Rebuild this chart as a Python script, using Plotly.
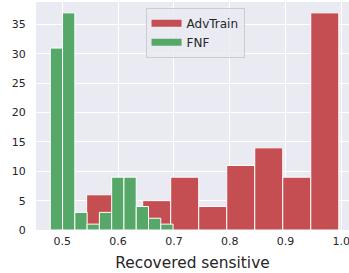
import plotly.graph_objects as go

# AdvTrain histogram (bin edges and counts)
adv_edges = [0.4935, 0.5437, 0.5939, 0.6441, 0.6943, 0.7445, 0.7947, 0.8449, 0.8951, 0.9453, 0.9955]
adv_counts = [1, 6, 4, 5, 9, 4, 11, 14, 9, 37]

# FNF histogram
fnf_edges = [0.4785, 0.5005, 0.5225, 0.5445, 0.5665, 0.5885, 0.6105, 0.6325, 0.6545, 0.6765, 0.6985]
fnf_counts = [31, 37, 3, 1, 3, 9, 9, 4, 2, 1]

x_ticks = [0.5, 0.6, 0.7, 0.8, 0.9, 1.0]
x_ticklabels = ["0.5", "0.6", "0.7", "0.8", "0.9", "1.0"]
y_ticks = [0, 5, 10, 15, 20, 25, 30, 35]

RED = "#C44E52"
GREEN = "#55A868"


def centers(edges):
    return [(a + b) / 2 for a, b in zip(edges[:-1], edges[1:])]


def widths(edges):
    return [b - a for a, b in zip(edges[:-1], edges[1:])]


fig = go.Figure()
fig.add_trace(go.Bar(
    x=centers(adv_edges), y=adv_counts, width=widths(adv_edges),
    name="AdvTrain", showlegend=False,
    marker=dict(color=RED, line=dict(color="white", width=1)),
))
fig.add_trace(go.Bar(
    x=centers(fnf_edges), y=fnf_counts, width=widths(fnf_edges),
    name="FNF", showlegend=False,
    marker=dict(color=GREEN, line=dict(color="white", width=1)),
))
# legend entries drawn as wide patches
fig.add_trace(go.Scatter(x=[None], y=[None], mode="lines", name="AdvTrain",
                         line=dict(color=RED, width=7)))
fig.add_trace(go.Scatter(x=[None], y=[None], mode="lines", name="FNF",
                         line=dict(color=GREEN, width=7)))

fig.update_layout(
    width=349, height=273,
    margin=dict(l=36, r=0, t=2, b=43, autoexpand=False),
    barmode="overlay",
    paper_bgcolor="white",
    plot_bgcolor="#EAEAF2",
    font=dict(family="DejaVu Sans", color="#262626", size=11),
    showlegend=True,
    legend=dict(
        x=0.35, y=0.975, xanchor="left", yanchor="top",
        bgcolor="rgba(234,234,242,0.8)", bordercolor="#CCCCCC", borderwidth=1,
        font=dict(size=12, color="#262626"),
        traceorder="normal", tracegroupgap=0,
    ),
    xaxis=dict(
        range=[0.4529, 1.0138],
        tickvals=x_ticks, ticktext=x_ticklabels,
        showgrid=True, gridcolor="white", gridwidth=1,
        zeroline=False, showline=False, ticks="",
        automargin=False, ticklabeloverflow="allow",
        ticklabelstandoff=3,
        title=dict(text="Recovered sensitive", font=dict(size=15.4), standoff=10),
    ),
    yaxis=dict(
        range=[0, 38.85],
        tickvals=y_ticks,
        showgrid=True, gridcolor="white", gridwidth=1,
        zeroline=False, showline=False,
        ticks="outside", ticklen=7, tickcolor="rgba(0,0,0,0)",
        automargin=False,
    ),
)

fig.write_html(
    "out.html",
    config={"displayModeBar": False},
    post_script="document.body.style.margin='0px';document.body.style.overflow='hidden';",
)
